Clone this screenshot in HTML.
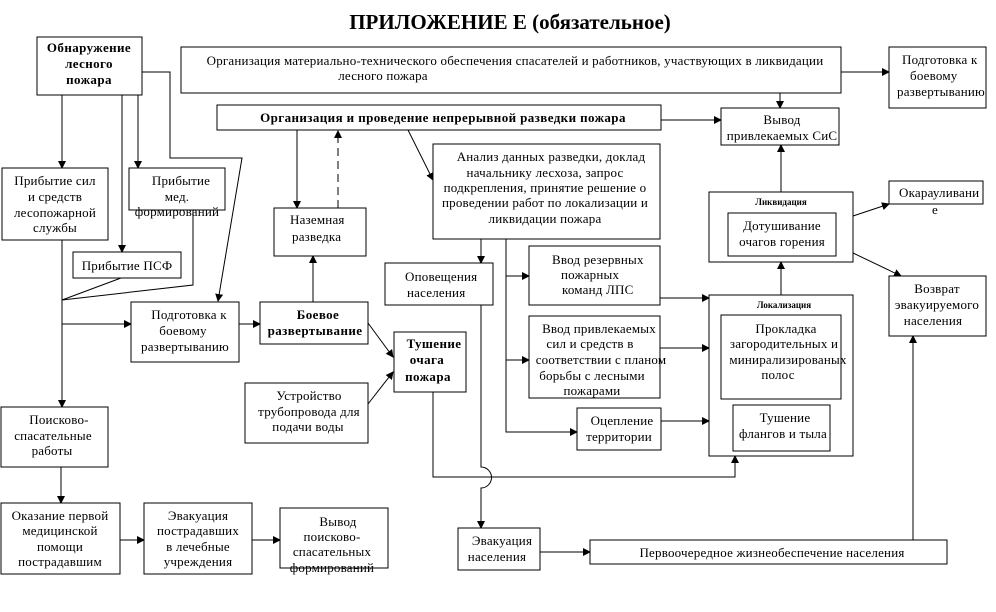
<!DOCTYPE html>
<html><head><meta charset="utf-8"><style>
body{margin:0;background:#fff}
svg{display:block}
text{font-family:"Liberation Serif",serif;font-size:13px;fill:#000;letter-spacing:0.2px}
.b{font-weight:bold;font-size:13px;letter-spacing:0.4px}
.s{font-size:9px;font-weight:bold;letter-spacing:0}
rect{fill:#fff;stroke:#000;stroke-width:1}
line,polyline,path{stroke:#000;stroke-width:1;fill:none}
</style></head><body>
<svg width="996" height="612" viewBox="0 0 996 612">
<defs><marker id="a" markerWidth="8" markerHeight="8" refX="7" refY="4" orient="auto" markerUnits="userSpaceOnUse"><path d="M0,0 L8,4 L0,8 z" style="fill:#000;stroke:none"/></marker></defs>
<text x="510" y="29" text-anchor="middle" class="b" style="font-size:21px;letter-spacing:0">ПРИЛОЖЕНИЕ Е (обязательное)</text>

<g>
<line x1="62" y1="95" x2="62" y2="168" marker-end="url(#a)"/>
<line x1="122" y1="95" x2="122" y2="252" marker-end="url(#a)"/>
<line x1="138" y1="95" x2="138" y2="168" marker-end="url(#a)"/>
<polyline points="142,72 170,72 170,158 242,158 218,301" marker-end="url(#a)"/>
<line x1="62" y1="240" x2="62" y2="407" marker-end="url(#a)"/>
<line x1="121" y1="278" x2="62" y2="300"/>
<polyline points="193,210 193,285 62,300"/>
<line x1="62" y1="324" x2="131" y2="324" marker-end="url(#a)"/>
<line x1="239" y1="324" x2="260" y2="324" marker-end="url(#a)"/>
<line x1="313" y1="302" x2="313" y2="256" marker-end="url(#a)"/>
<line x1="297" y1="130" x2="297" y2="208" marker-end="url(#a)"/>
<line x1="338" y1="208" x2="338" y2="131" stroke-dasharray="8,5" marker-end="url(#a)"/>
<line x1="408" y1="130" x2="433" y2="180" marker-end="url(#a)"/>
<line x1="661" y1="120" x2="721" y2="120" marker-end="url(#a)"/>
<line x1="780" y1="93" x2="780" y2="108" marker-end="url(#a)"/>
<line x1="841" y1="72" x2="889" y2="72" marker-end="url(#a)"/>
<line x1="481" y1="239" x2="481" y2="263" marker-end="url(#a)"/>
<polyline points="506,239 506,432 577,432" marker-end="url(#a)"/>
<line x1="506" y1="276" x2="529" y2="276" marker-end="url(#a)"/>
<line x1="506" y1="360" x2="529" y2="360" marker-end="url(#a)"/>
<line x1="660" y1="298" x2="709" y2="298" marker-end="url(#a)"/>
<line x1="660" y1="348" x2="709" y2="348" marker-end="url(#a)"/>
<line x1="661" y1="421" x2="709" y2="421" marker-end="url(#a)"/>
<line x1="781" y1="295" x2="781" y2="262" marker-end="url(#a)"/>
<line x1="781" y1="192" x2="781" y2="145" marker-end="url(#a)"/>
<line x1="853" y1="216" x2="889" y2="204" marker-end="url(#a)"/>
<line x1="853" y1="253" x2="901" y2="276" marker-end="url(#a)"/>
<line x1="913" y1="540" x2="913" y2="336" marker-end="url(#a)"/>
<line x1="368" y1="323" x2="393" y2="357" marker-end="url(#a)"/>
<line x1="368" y1="404" x2="393" y2="372" marker-end="url(#a)"/>
<polyline points="433,392 433,477 735,477 735,456" marker-end="url(#a)"/>
<path d="M481,305 L481,467 A10,10 0 0 1 481,488 L481,528" marker-end="url(#a)"/>
<line x1="540" y1="552" x2="590" y2="552" marker-end="url(#a)"/>
<line x1="61" y1="467" x2="61" y2="503" marker-end="url(#a)"/>
<line x1="120" y1="540" x2="144" y2="540" marker-end="url(#a)"/>
<line x1="252" y1="540" x2="280" y2="540" marker-end="url(#a)"/>
</g>

<rect x="37" y="37" width="105" height="58"/>
<text class="b" text-anchor="middle"><tspan x="89" y="52">Обнаружение</tspan><tspan x="89" y="68">лесного</tspan><tspan x="89" y="84">пожара</tspan></text>

<rect x="181" y="47" width="660" height="46"/>
<text text-anchor="middle"><tspan x="515" y="65">Организация материально-технического обеспечения спасателей и работников, участвующих в ликвидации</tspan><tspan x="383" y="80">лесного пожара</tspan></text>

<rect x="889" y="47" width="97" height="61"/>
<text><tspan x="902" y="64">Подготовка к</tspan><tspan x="910" y="80">боевому</tspan><tspan x="897" y="96">развертыванию</tspan></text>

<rect x="217" y="105" width="444" height="25"/>
<text x="443" y="122" class="b" text-anchor="middle">Организация и проведение непрерывной разведки пожара</text>

<rect x="721" y="108" width="118" height="37"/>
<text text-anchor="middle"><tspan x="782" y="124">Вывод</tspan><tspan x="782" y="140">привлекаемых СиС</tspan></text>

<rect x="433" y="144" width="227" height="95"/>
<text text-anchor="middle"><tspan x="551" y="161">Анализ данных разведки, доклад</tspan><tspan x="545" y="177">начальнику лесхоза, запрос</tspan><tspan x="545" y="192">подкрепления, принятие решение о</tspan><tspan x="545" y="207">проведении работ по локализации и</tspan><tspan x="545" y="223">ликвидации пожара</tspan></text>

<rect x="2" y="168" width="106" height="72"/>
<text text-anchor="middle"><tspan x="55" y="185">Прибытие сил</tspan><tspan x="55" y="201">и средств</tspan><tspan x="55" y="217">лесопожарной</tspan><tspan x="55" y="232">службы</tspan></text>

<rect x="129" y="168" width="96" height="42"/>
<text text-anchor="middle"><tspan x="181" y="185">Прибытие</tspan><tspan x="177" y="201">мед.</tspan><tspan x="177" y="216">формирований</tspan></text>

<rect x="274" y="208" width="92" height="48"/>
<text><tspan x="290" y="224">Наземная</tspan><tspan x="292" y="241">разведка</tspan></text>

<rect x="709" y="192" width="144" height="70"/>
<text class="s" text-anchor="middle"><tspan x="781" y="205">Ликвидация</tspan><tspan x="781" y="218">пожара</tspan></text>
<rect x="728" y="213" width="108" height="43"/>
<text text-anchor="middle"><tspan x="782" y="230">Дотушивание</tspan><tspan x="782" y="246">очагов горения</tspan></text>

<rect x="889" y="181" width="94" height="23"/>
<text><tspan x="899" y="197">Окарауливани</tspan><tspan x="932" y="214">е</tspan></text>

<rect x="73" y="252" width="108" height="26"/>
<text x="127" y="270" text-anchor="middle">Прибытие ПСФ</text>

<rect x="385" y="263" width="108" height="42"/>
<text><tspan x="405" y="281">Оповещения</tspan><tspan x="407" y="297">населения</tspan></text>

<rect x="529" y="246" width="131" height="59"/>
<text><tspan x="552" y="264">Ввод резервных</tspan><tspan x="561" y="279">пожарных</tspan><tspan x="562" y="294">команд ЛПС</tspan></text>

<rect x="889" y="276" width="97" height="60"/>
<text text-anchor="middle"><tspan x="937" y="293">Возврат</tspan><tspan x="937" y="309">эвакуируемого</tspan><tspan x="933" y="325">населения</tspan></text>

<rect x="709" y="295" width="144" height="161"/>
<text class="s" text-anchor="middle"><tspan x="784" y="308">Локализация</tspan><tspan x="784" y="320">пожара</tspan></text>
<rect x="721" y="315" width="120" height="84"/>
<text text-anchor="middle"><tspan x="786" y="333">Прокладка</tspan><tspan x="784" y="348">загородительных и</tspan><tspan x="788" y="364">минирализированых</tspan><tspan x="778" y="379">полос</tspan></text>
<rect x="733" y="405" width="97" height="46"/>
<text text-anchor="middle"><tspan x="785" y="422">Тушение</tspan><tspan x="783" y="438">флангов и тыла</tspan></text>

<rect x="131" y="302" width="108" height="60"/>
<text text-anchor="middle"><tspan x="189" y="319">Подготовка к</tspan><tspan x="183" y="335">боевому</tspan><tspan x="185" y="351">развертыванию</tspan></text>

<rect x="260" y="302" width="108" height="42"/>
<text class="b" text-anchor="middle"><tspan x="318" y="319">Боевое</tspan><tspan x="315" y="335">развертывание</tspan></text>

<rect x="394" y="332" width="72" height="60"/>
<text class="b" text-anchor="middle"><tspan x="434" y="348">Тушение</tspan><tspan x="427" y="364">очага</tspan><tspan x="428" y="381">пожара</tspan></text>

<rect x="529" y="316" width="131" height="82"/>
<text text-anchor="middle"><tspan x="599" y="333">Ввод привлекаемых</tspan><tspan x="590" y="348">сил и средств в</tspan><tspan x="601" y="364">соответствии с планом</tspan><tspan x="592" y="380">борьбы с лесными</tspan><tspan x="592" y="395">пожарами</tspan></text>

<rect x="245" y="383" width="123" height="60"/>
<text text-anchor="middle"><tspan x="309" y="400">Устройство</tspan><tspan x="309" y="416">трубопровода для</tspan><tspan x="308" y="431">подачи воды</tspan></text>

<rect x="577" y="408" width="84" height="42"/>
<text text-anchor="middle"><tspan x="622" y="425">Оцепление</tspan><tspan x="619" y="441">территории</tspan></text>

<rect x="1" y="407" width="107" height="60"/>
<text text-anchor="middle"><tspan x="59" y="424">Поисково-</tspan><tspan x="53" y="440">спасательные</tspan><tspan x="52" y="455">работы</tspan></text>

<rect x="1" y="503" width="119" height="71"/>
<text text-anchor="middle"><tspan x="60" y="520">Оказание первой</tspan><tspan x="60" y="535">медицинской</tspan><tspan x="60" y="551">помощи</tspan><tspan x="60" y="566">пострадавшим</tspan></text>

<rect x="144" y="503" width="108" height="71"/>
<text text-anchor="middle"><tspan x="198" y="520">Эвакуация</tspan><tspan x="198" y="535">пострадавших</tspan><tspan x="198" y="551">в лечебные</tspan><tspan x="198" y="566">учреждения</tspan></text>

<rect x="280" y="508" width="108" height="60"/>
<text text-anchor="middle"><tspan x="338" y="526">Вывод</tspan><tspan x="332" y="541">поисково-</tspan><tspan x="332" y="556">спасательных</tspan><tspan x="332" y="572">формирований</tspan></text>

<rect x="458" y="528" width="82" height="42"/>
<text text-anchor="middle"><tspan x="502" y="545">Эвакуация</tspan><tspan x="497" y="561">населения</tspan></text>

<rect x="590" y="540" width="357" height="24"/>
<text x="772" y="557" text-anchor="middle">Первоочередное жизнеобеспечение населения</text>
</svg>
</body></html>
